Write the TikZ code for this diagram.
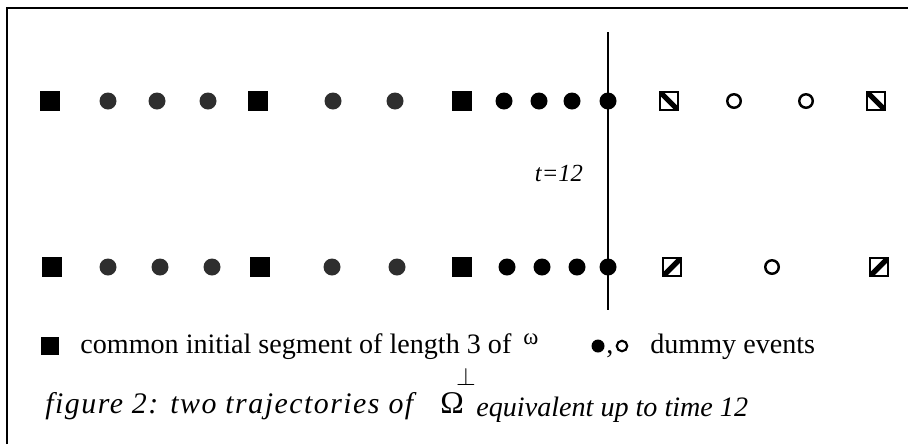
\documentclass[tikz,border=0pt]{standalone}
\usepackage{fontspec}
\setmainfont{Liberation Serif}
\newfontfamily\capwide[LetterSpace=5]{Liberation Serif}
\usetikzlibrary{positioning}

\begin{document}
\begin{tikzpicture}[x=0.02cm,y=-0.02cm,
    initial/.style={rectangle,fill=black,minimum size=0.4cm,inner sep=0pt},
    speckled/.style={circle,fill=black!82,minimum size=0.34cm,inner sep=0pt},
    dummy/.style={circle,fill=black,minimum size=0.34cm,inner sep=0pt},
    hollow/.style={circle,draw,line width=1.4pt,minimum size=0.27cm,inner sep=0pt},
    hatchdown/.style={rectangle,draw,line width=1.6pt,minimum size=0.36cm,inner sep=0pt,
      path picture={\draw[line width=3pt] (path picture bounding box.north west) -- (path picture bounding box.south east);}},
    hatchup/.style={rectangle,draw,line width=1.6pt,minimum size=0.36cm,inner sep=0pt,
      path picture={\draw[line width=3pt] (path picture bounding box.south west) -- (path picture bounding box.north east);}},
    legend/.style={font=\fontsize{16}{19}\selectfont,inner sep=0pt}
  ]
    \useasboundingbox (0,0) rectangle (908,444);

    % Frame
    \coordinate (frameA) at (7,444);
    \coordinate (frameB) at (7,8);
    \coordinate (frameC) at (908,8);
    \draw[line width=1.2pt] (frameA) -- (frameB) -- (frameC);

    % Time line
    \coordinate (ttop) at (608,32);
    \coordinate (tbot) at (608,310);
    \draw[line width=1.4pt] (ttop) -- (tbot);
    \node[font=\fontsize{14}{16}\selectfont\itshape] (tlabel) at (559,173) {t=12};

    % First trajectory
    \node[initial] (a1) at (50,101) {};
    \node[speckled] (a2) at (108,101) {};
    \node[speckled] (a3) at (157,101) {};
    \node[speckled] (a4) at (208,101) {};
    \node[initial] (a5) at (258,101) {};
    \node[speckled] (a6) at (333,101) {};
    \node[speckled] (a7) at (395,101) {};
    \node[initial] (a8) at (462,101) {};
    \node[dummy] (a9) at (504,101) {};
    \node[dummy] (a10) at (539,101) {};
    \node[dummy] (a11) at (572,101) {};
    \node[dummy] (a12) at (608,101) {};
    \node[hatchdown] (a13) at (669,101) {};
    \node[hollow] (a14) at (734,101) {};
    \node[hollow] (a15) at (806,101) {};
    \node[hatchdown] (a16) at (876,101) {};

    % Second trajectory
    \node[initial] (b1) at (52,267) {};
    \node[speckled] (b2) at (108,267) {};
    \node[speckled] (b3) at (160,267) {};
    \node[speckled] (b4) at (212,267) {};
    \node[initial] (b5) at (260,267) {};
    \node[speckled] (b6) at (332,267) {};
    \node[speckled] (b7) at (397,267) {};
    \node[initial] (b8) at (462,267) {};
    \node[dummy] (b9) at (507,267) {};
    \node[dummy] (b10) at (542,267) {};
    \node[dummy] (b11) at (577,267) {};
    \node[dummy] (b12) at (608,267) {};
    \node[hatchup] (b13) at (672,267) {};
    \node[hollow] (b14) at (772,267) {};
    \node[hatchup] (b15) at (879,267) {};

    % Legend
    \node[initial,minimum size=0.36cm] (legsquare) at (50,346) {};
    \node[legend,anchor=base west] (legcommon) at (80,353) {common initial segment of length 3 of};
    \node[anchor=base west,font=\fontsize{13}{15}\selectfont,inner sep=0pt] (legomega) at (523,344) {ω};
    \node[dummy,minimum size=0.26cm] (legdot) at (598,346) {};
    \node[legend,anchor=base] (legcomma) at (610,353) {,};
    \node[hollow,minimum size=0.21cm,line width=1.2pt] (leghollow) at (622,346) {};
    \node[legend,anchor=base west] (legdummy) at (650,353) {dummy events};

    % Caption
    \node[legend,anchor=base west,font=\fontsize{17}{20}\capwide\itshape] (caption) at (45,413) {figure 2: two trajectories of};
    \node[legend,anchor=base west,font=\fontsize{18}{20}\selectfont] (capomega) at (440,413) {Ω};
    \node[anchor=base,inner sep=0pt,font=\Large] (capperp) at (466,385) {$\perp$};
    \node[legend,anchor=base west,font=\fontsize{16}{19}\selectfont\itshape] (capright) at (476,416) {equivalent up to time 12};
\end{tikzpicture}
\end{document}
